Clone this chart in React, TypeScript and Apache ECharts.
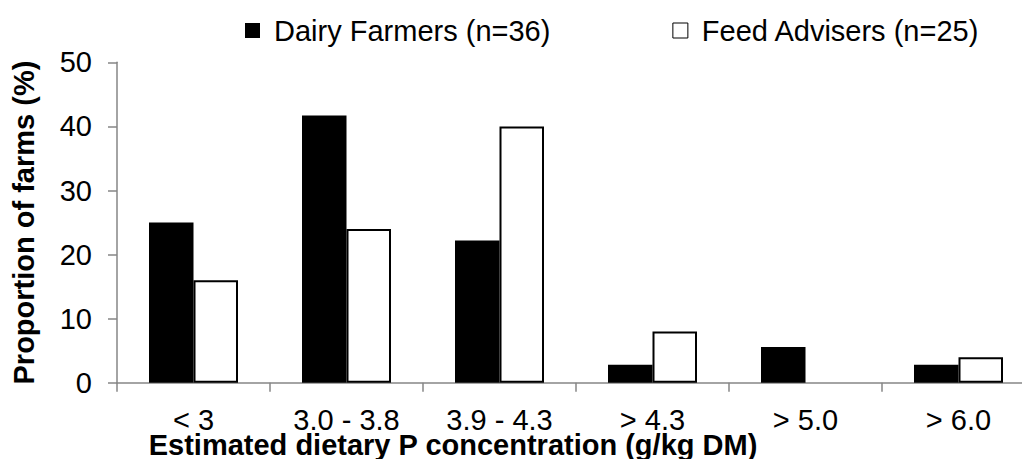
import React, { useEffect, useRef } from "react";
import * as echarts from "echarts";

const categories = ["< 3", "3.0 - 3.8", "3.9 - 4.3", "> 4.3", "> 5.0", "> 6.0"];
const dairyFarmers = [25, 41.7, 22.2, 2.8, 5.6, 2.8];
const feedAdvisers = [16, 24, 40, 8, 0, 4];
const seriesNames = ["Dairy Farmers (n=36)", "Feed Advisers (n=25)"];
const yTitle = "Proportion of farms (%)";
const xTitle = "Estimated dietary P concentration (g/kg DM)";

const FONT = "'Liberation Sans', Arial, sans-serif";

export default function App() {
  const ref = useRef<HTMLDivElement>(null);
  useEffect(() => {
    if (!ref.current) return;
    const chart = echarts.init(ref.current, undefined, { renderer: "svg" });
    chart.setOption({
      animation: false,
      backgroundColor: "#ffffff",
      textStyle: { fontFamily: FONT },
      legend: {
        left: 245,
        top: 16,
        padding: 0,
        itemWidth: 15,
        itemHeight: 15,
        itemGap: 122,
        icon: "rect",
        textStyle: { fontSize: 29, color: "#000", fontFamily: FONT, padding: [0, 0, 0, 9] },
        data: [
          { name: seriesNames[0], itemStyle: { color: "#000" } },
          { name: seriesNames[1], itemStyle: { color: "#fff", borderColor: "#000", borderWidth: 1 } },
        ],
      },
      grid: { left: 117, top: 62.3, height: 320.5, width: 918, outerBoundsMode: "none", containLabel: false },
      xAxis: {
        type: "category",
        data: categories,
        axisLine: { lineStyle: { color: "#868686", width: 1.5 } },
        axisTick: { show: true, length: 9, lineStyle: { color: "#868686", width: 1.5 } },
        axisLabel: { fontSize: 29, color: "#000", fontFamily: FONT, margin: 23, interval: 0 },
      },
      yAxis: {
        type: "value",
        min: 0,
        max: 50,
        interval: 10,
        name: yTitle,
        nameLocation: "middle",
        nameGap: 79,
        nameRotate: 90,
        nameTextStyle: { fontSize: 29, fontWeight: "bold", color: "#000", fontFamily: FONT },
        axisLine: { show: true, lineStyle: { color: "#868686", width: 1.5 } },
        axisTick: { show: true, length: 9, lineStyle: { color: "#868686", width: 1.5 } },
        splitLine: { show: false },
        axisLabel: { fontSize: 29, color: "#000", fontFamily: FONT, margin: 25 },
      },
      graphic: [
        {
          type: "text",
          x: 453,
          y: 445,
          style: {
            text: xTitle,
            fontSize: 29,
            fontWeight: "bold",
            fill: "#000",
            fontFamily: FONT,
            align: "center",
            verticalAlign: "middle",
          },
        },
      ],
      series: [
        {
          name: seriesNames[0],
          type: "bar",
          data: dairyFarmers,
          barWidth: 44.5,
          barGap: "0%",
          itemStyle: { color: "#000" },
        },
        {
          name: seriesNames[1],
          type: "bar",
          data: feedAdvisers.map((v) => (v === 0 ? null : v)),
          barWidth: 44.5,
          barGap: "0%",
          itemStyle: { color: "#fff", borderColor: "#000", borderWidth: 2 },
        },
      ],
    });
    return () => chart.dispose();
  }, []);
  return (
    <div
      ref={ref}
      style={{ position: "fixed", left: 0, top: 0, width: 1022, height: 459 }}
    />
  );
}
